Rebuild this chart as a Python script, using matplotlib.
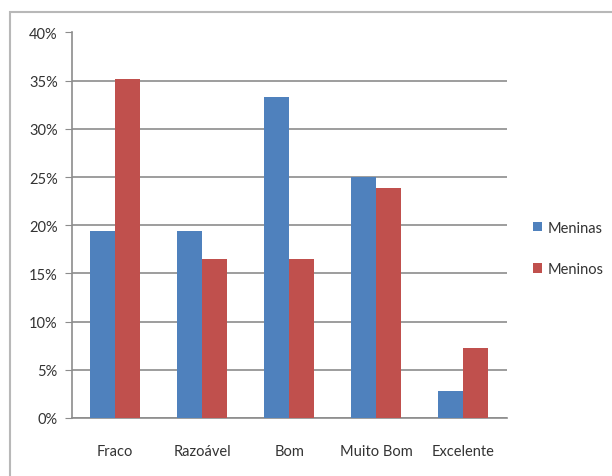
import matplotlib
matplotlib.use("Agg")
import matplotlib.pyplot as plt
import numpy as np
from matplotlib.patches import Rectangle
from matplotlib.ticker import FuncFormatter

categories = ["Fraco", "Razoável", "Bom", "Muito Bom", "Excelente"]
meninas = [19.4, 19.4, 33.3, 25.0, 2.8]
meninos = [35.2, 16.5, 16.5, 23.9, 7.3]
series_names = ["Meninas", "Meninos"]
yticks = [0, 5, 10, 15, 20, 25, 30, 35, 40]

plt.rcParams['font.family'] = ['Lato', 'DejaVu Sans']

fig = plt.figure(figsize=(6.12, 4.77), dpi=100)
fig.patch.set_facecolor("white")
# outer chart frame (right/bottom edges cut off)
fig.patches.append(Rectangle((10/612, -0.05), 1.2, (477-13)/477 + 0.05,
                             transform=fig.transFigure, fill=False,
                             edgecolor="#b8b8b8", linewidth=1.5))

ax = fig.add_axes([71.7/612, 58/477, 435/612, 385.5/477])
x = np.arange(len(categories))
w = 0.286
ax.bar(x - w/2, meninas, w, color="#4F81BD", label=series_names[0], zorder=3)
ax.bar(x + w/2, meninos, w, color="#C0504D", label=series_names[1], zorder=3)

ax.set_xlim(-0.5, len(categories) - 0.5)
ax.set_ylim(0, 40)
ax.set_yticks(yticks)
ax.yaxis.set_major_formatter(FuncFormatter(lambda v, p: f"{int(v)}%"))
ax.set_xticks(x)
ax.set_xticklabels(categories)
ax.grid(axis="y", color="#8c8c8c", linewidth=1.2, zorder=0)
for s in ["top", "right"]:
    ax.spines[s].set_visible(False)
for s in ["left", "bottom"]:
    ax.spines[s].set_color("#8c8c8c")
    ax.spines[s].set_linewidth(1.2)
ax.tick_params(axis="y", length=5, color="#8c8c8c", labelsize=10.5, labelcolor="#333333", pad=5)
ax.tick_params(axis="x", length=0, labelsize=10.5, labelcolor="#333333", pad=19)

ax.legend(loc="center left", bbox_to_anchor=(1.03, 0.44), frameon=False,
          fontsize=10.5, handlelength=0.6, handleheight=0.6, handletextpad=0.4,
          labelspacing=1.9, labelcolor="#333333")

fig.savefig("out.png", dpi=100)
